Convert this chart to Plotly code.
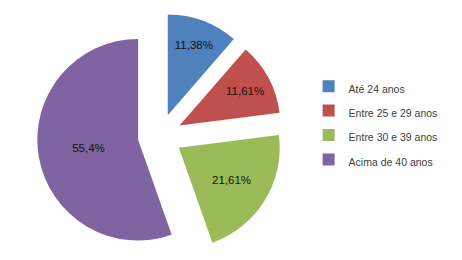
import plotly.graph_objects as go

categories = ["Até 24 anos", "Entre 25 e 29 anos", "Entre 30 e 39 anos", "Acima de 40 anos"]
values = [11.38, 11.61, 21.61, 55.4]
colors = ["#4F81BD", "#C0504D", "#9BBB59", "#8064A2"]

labels_text = [f"{v}".replace(".", ",") + "%" for v in values]
legend_labels = [f"<span style='font-size:10.5px'>{c}</span>" for c in categories]

W, H = 462, 260
cx, cy, half = 160, 136, 123

fig = go.Figure(go.Pie(
    labels=legend_labels,
    values=values,
    text=labels_text,
    textinfo="text",
    textposition="inside",
    insidetextorientation="horizontal",
    sort=False,
    direction="clockwise",
    rotation=0,
    pull=[0.22, 0.22, 0.22, 0.22],
    marker=dict(colors=colors, line=dict(width=0)),
    textfont=dict(family="Liberation Sans", size=11.5, color="#111111"),
    domain=dict(x=[(cx - half) / W, (cx + half) / W], y=[1 - (cy + half) / H, 1 - (cy - half) / H]),
    hoverinfo="text+percent",
    hovertext=categories,
))

fig.update_layout(
    width=W, height=H,
    margin=dict(l=0, r=0, t=0, b=0),
    paper_bgcolor="white",
    plot_bgcolor="white",
    showlegend=True,
    legend=dict(
        x=0.668, y=0.735, xanchor="left", yanchor="top",
        font=dict(family="Liberation Sans", size=16.5, color="#404040"),
        bgcolor="rgba(0,0,0,0)",
    ),
    uniformtext=dict(minsize=11, mode="show"),
)

fig.write_html("out.html")
